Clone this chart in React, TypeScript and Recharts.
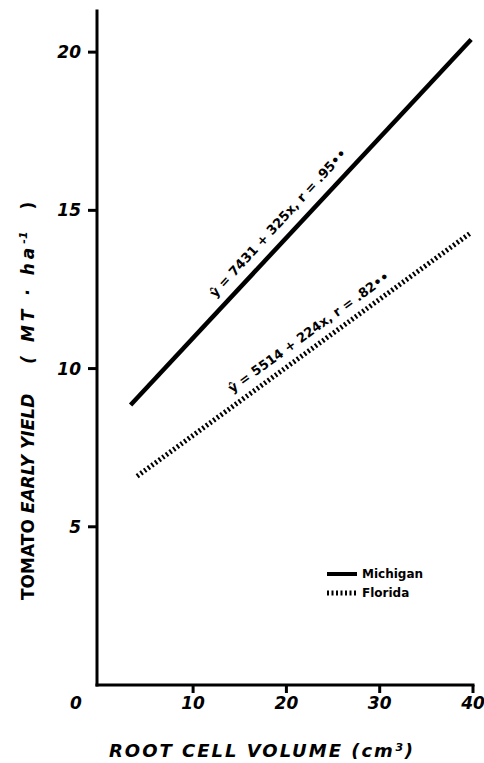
import React from 'react';
import { ComposedChart, Line, Scatter, XAxis, YAxis, Legend } from 'recharts';

const xTicks = [0, 10, 20, 30, 40];
const yTicks = [5, 10, 15, 20];

const seriesNames = ['Michigan', 'Florida'];
const michiganX = [3.3, 39.8];
const michiganY = [8.85, 20.4];
const floridaX = [4.0, 39.8];
const floridaY = [6.6, 14.3];

const annotationText = ['ŷ = 7431 + 325x, r = .95••', 'ŷ = 5514 + 224x, r = .82••'];
const annotationX = [19.1, 22.4];
const annotationY = [14.6, 11.15];

const xTitle = 'ROOT CELL VOLUME  (cm³)';

const FONT = '"DejaVu Sans", sans-serif';

const michiganData = michiganX.map((x, i) => ({ x, y: michiganY[i] }));
const floridaData = floridaX.map((x, i) => ({ x, y: floridaY[i] }));
const annoMich = [{ x: annotationX[0], y: annotationY[0] }];
const annoFla = [{ x: annotationX[1], y: annotationY[1] }];

const makeAnno = (text: string, angle: number) => (props: any) => {
  const { cx, cy } = props;
  return (
    <text
      x={cx}
      y={cy}
      transform={`rotate(${-angle} ${cx} ${cy})`}
      textAnchor="middle"
      dominantBaseline="central"
      fontFamily={FONT}
      fontWeight="bold"
      fontSize={13}
      fill="#000"
    >
      {text}
    </text>
  );
};

const XTick = (props: any) => {
  const { x, y, payload } = props;
  const v = payload.value;
  if (v === 0) {
    return (
      <text x={x - 24} y={y + 24} textAnchor="middle" fontFamily={FONT} fontStyle="italic" fontWeight="bold" fontSize={17} fill="#000">
        {String(v)}
      </text>
    );
  }
  return (
    <g>
      <line x1={x} x2={x} y1={y} y2={y + 8} stroke="#000" strokeWidth={3} />
      <text x={x} y={y + 24} textAnchor="middle" fontFamily={FONT} fontStyle="italic" fontWeight="bold" fontSize={17} fill="#000">
        {String(v)}
      </text>
    </g>
  );
};

const XLabel = (props: any) => {
  const vb = props.viewBox || { x: 97, y: 685, width: 376, height: 78 };
  return (
    <text
      x={vb.x + 165}
      y={vb.y + 72}
      textAnchor="middle"
      fontFamily={FONT}
      fontStyle="italic"
      fontWeight="bold"
      fontSize={18}
      letterSpacing={2}
      fill="#000"
    >
      {xTitle}
    </text>
  );
};

const YLabel = (props: any) => {
  const vb = props.viewBox || { x: 0, y: 11, width: 97, height: 674 };
  const x = vb.x + 34;
  const y = vb.y + vb.height - 85;
  return (
    <text
      x={x}
      y={y}
      transform={`rotate(-90 ${x} ${y})`}
      textAnchor="start"
      fontFamily={FONT}
      fontWeight="bold"
      fontSize={17}
      fill="#000"
    >
      <tspan>TOMATO </tspan>
      <tspan fontStyle="italic">EARLY YIELD</tspan>
      <tspan dx={30} fontStyle="italic" letterSpacing={4}>( MT · ha</tspan>
      <tspan dy={-7} fontSize={11} fontStyle="italic">-1</tspan>
      <tspan dy={7} dx={22}>)</tspan>
    </text>
  );
};

const LegendContent = () => (
  <svg width={130} height={40} style={{ display: 'block' }}>
    {seriesNames.map((name, i) => (
      <g key={name}>
        <line
          x1={1}
          x2={31}
          y1={9 + i * 19}
          y2={9 + i * 19}
          stroke="#000"
          strokeWidth={i === 0 ? 4 : 5}
          strokeDasharray={i === 0 ? undefined : '2 2.5'}
        />
        <text x={36} y={13 + i * 19} fontFamily={FONT} fontWeight="bold" fontSize={12} fill="#000">
          {name}
        </text>
      </g>
    ))}
  </svg>
);

export default function App() {
  return (
    <div style={{ position: 'absolute', left: 0, top: 0, background: '#fff' }}>
      <ComposedChart width={484} height={763} margin={{ top: 11, right: 11, left: 0, bottom: 0 }}>
        <XAxis
          type="number"
          dataKey="x"
          domain={[-0.3, 40]}
          ticks={xTicks}
          interval={0}
          height={78}
          tickLine={false}
          tickSize={0}
          tickMargin={0}
          tick={<XTick />}
          axisLine={{ stroke: '#000', strokeWidth: 3, strokeLinecap: 'square' }}
          label={<XLabel />}
          allowDataOverflow
        />
        <YAxis
          type="number"
          dataKey="y"
          domain={[0, 21.3]}
          ticks={yTicks}
          interval={0}
          width={97}
          tickSize={9}
          tickMargin={7}
          tickLine={{ stroke: '#000', strokeWidth: 3 }}
          tick={{ fill: '#000', fontSize: 17, fontStyle: 'italic', fontWeight: 'bold', fontFamily: FONT }}
          axisLine={{ stroke: '#000', strokeWidth: 3, strokeLinecap: 'square' }}
          label={<YLabel />}
          allowDataOverflow
        />
        <Legend
          layout="horizontal"
          verticalAlign="middle"
          align="center"
          content={<LegendContent />}
          wrapperStyle={{ left: 326, top: 565, width: 130 }}
        />
        <Line data={michiganData} dataKey="y" name={seriesNames[0]} stroke="#000" strokeWidth={4.5} dot={false} isAnimationActive={false} />
        <Line data={floridaData} dataKey="y" name={seriesNames[1]} stroke="#000" strokeWidth={5} strokeDasharray="2 2.5" dot={false} isAnimationActive={false} />
        <Scatter data={annoMich} dataKey="y" shape={makeAnno(annotationText[0], 47.5)} isAnimationActive={false} legendType="none" />
        <Scatter data={annoFla} dataKey="y" shape={makeAnno(annotationText[1], 36)} isAnimationActive={false} legendType="none" />
      </ComposedChart>
    </div>
  );
}
